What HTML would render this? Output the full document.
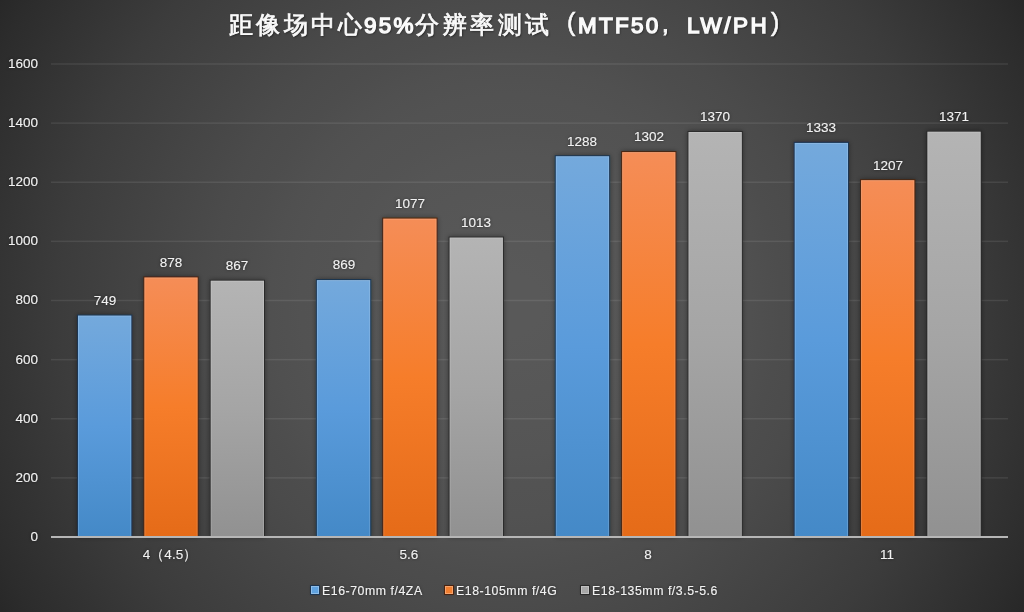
<!DOCTYPE html>
<html><head><meta charset="utf-8"><style>
html,body{margin:0;padding:0;width:1024px;height:612px;overflow:hidden;background:#3a3a3a}
body{position:relative;font-family:"Liberation Sans",sans-serif;color:#f2f2f2}
div{white-space:nowrap}
.yl{position:absolute;left:-12px;width:50px;text-align:right;font-size:13.5px;line-height:20px;text-shadow:0 0 3px rgba(0,0,0,.55);-webkit-text-stroke:0.12px #f0f0f0;will-change:transform;}
.dl{position:absolute;width:60px;text-align:center;font-size:13.5px;line-height:20px;text-shadow:0 0 3px rgba(0,0,0,.55);-webkit-text-stroke:0.12px #f0f0f0;will-change:transform;}
.cl{position:absolute;width:120px;text-align:center;font-size:13.5px;line-height:20px;text-shadow:0 0 3px rgba(0,0,0,.55);-webkit-text-stroke:0.12px #f0f0f0;will-change:transform;}
.t{position:absolute;line-height:40px;font-weight:normal;color:#fafafa;text-shadow:1px 1px 2px rgba(0,0,0,.6);will-change:transform}
.leg{position:absolute;font-size:12.3px;letter-spacing:0.55px;line-height:20px;top:580.84px;text-shadow:0 0 3px rgba(0,0,0,.55);-webkit-text-stroke:0.12px #f0f0f0;will-change:transform;-webkit-text-stroke:0.15px #f0f0f0}
.sq{position:absolute;top:586px;width:8px;height:8px}
</style></head><body>
<svg width="1024" height="612" viewBox="0 0 1024 612" style="position:absolute;left:0;top:0"><defs>
<radialGradient id="bg" cx="511" cy="305" r="600" gradientUnits="userSpaceOnUse"><stop offset="0.00" stop-color="#595959"/><stop offset="0.05" stop-color="#595959"/><stop offset="0.10" stop-color="#585858"/><stop offset="0.15" stop-color="#575757"/><stop offset="0.20" stop-color="#565656"/><stop offset="0.25" stop-color="#555555"/><stop offset="0.30" stop-color="#535353"/><stop offset="0.35" stop-color="#525252"/><stop offset="0.40" stop-color="#505050"/><stop offset="0.45" stop-color="#4d4d4d"/><stop offset="0.50" stop-color="#4b4b4b"/><stop offset="0.55" stop-color="#484848"/><stop offset="0.60" stop-color="#454545"/><stop offset="0.65" stop-color="#424242"/><stop offset="0.70" stop-color="#3f3f3f"/><stop offset="0.75" stop-color="#3c3c3c"/><stop offset="0.80" stop-color="#383838"/><stop offset="0.85" stop-color="#343434"/><stop offset="0.90" stop-color="#303030"/><stop offset="0.95" stop-color="#2c2c2c"/><stop offset="1.00" stop-color="#272727"/></radialGradient>
<linearGradient id="gb" x1="0" y1="0" x2="0" y2="1"><stop offset="0" stop-color="#74a9dc"/><stop offset="0.5" stop-color="#5a9bdb"/><stop offset="1" stop-color="#4489c7"/></linearGradient>
<linearGradient id="go" x1="0" y1="0" x2="0" y2="1"><stop offset="0" stop-color="#f58d57"/><stop offset="0.5" stop-color="#f67d2a"/><stop offset="1" stop-color="#e56b18"/></linearGradient>
<linearGradient id="gg" x1="0" y1="0" x2="0" y2="1"><stop offset="0" stop-color="#b4b4b4"/><stop offset="0.5" stop-color="#a5a5a5"/><stop offset="1" stop-color="#919191"/></linearGradient>
<filter id="sh" x="-30%" y="-10%" width="160%" height="120%"><feGaussianBlur in="SourceAlpha" stdDeviation="2.6" result="b"/><feComponentTransfer in="b" result="b2"><feFuncA type="linear" slope="0.4"/></feComponentTransfer><feMerge><feMergeNode in="b2"/><feMergeNode in="SourceGraphic"/></feMerge></filter>
</defs><rect x="0" y="0" width="1024" height="612" fill="url(#bg)"/><rect x="51.0" y="477.12" width="957.0" height="1.5" fill="#ffffff" fill-opacity="0.085"/><rect x="51.0" y="418.00" width="957.0" height="1.5" fill="#ffffff" fill-opacity="0.085"/><rect x="51.0" y="358.88" width="957.0" height="1.5" fill="#ffffff" fill-opacity="0.085"/><rect x="51.0" y="299.75" width="957.0" height="1.5" fill="#ffffff" fill-opacity="0.085"/><rect x="51.0" y="240.62" width="957.0" height="1.5" fill="#ffffff" fill-opacity="0.085"/><rect x="51.0" y="181.50" width="957.0" height="1.5" fill="#ffffff" fill-opacity="0.085"/><rect x="51.0" y="122.37" width="957.0" height="1.5" fill="#ffffff" fill-opacity="0.085"/><rect x="51.0" y="63.25" width="957.0" height="1.5" fill="#ffffff" fill-opacity="0.085"/><rect x="77.00" y="314.58" width="55.30" height="222.42" fill="#1b3451" filter="url(#sh)"/><rect x="78.00" y="315.58" width="53.3" height="221.42" fill="url(#gb)"/><rect x="78.50" y="316.08" width="52.30" height="220.42" fill="none" stroke="#fff" stroke-opacity="0.16" stroke-width="1"/><rect x="143.35" y="276.44" width="55.30" height="260.56" fill="#4b2410" filter="url(#sh)"/><rect x="144.35" y="277.44" width="53.3" height="259.56" fill="url(#go)"/><rect x="144.85" y="277.94" width="52.30" height="258.56" fill="none" stroke="#fff" stroke-opacity="0.16" stroke-width="1"/><rect x="209.70" y="279.69" width="55.30" height="257.31" fill="#2a2a2a" filter="url(#sh)"/><rect x="210.70" y="280.69" width="53.3" height="256.31" fill="url(#gg)"/><rect x="211.20" y="281.19" width="52.30" height="255.31" fill="none" stroke="#fff" stroke-opacity="0.16" stroke-width="1"/><rect x="315.90" y="279.10" width="55.30" height="257.90" fill="#1b3451" filter="url(#sh)"/><rect x="316.90" y="280.10" width="53.3" height="256.90" fill="url(#gb)"/><rect x="317.40" y="280.60" width="52.30" height="255.90" fill="none" stroke="#fff" stroke-opacity="0.16" stroke-width="1"/><rect x="382.25" y="217.61" width="55.30" height="319.39" fill="#4b2410" filter="url(#sh)"/><rect x="383.25" y="218.61" width="53.3" height="318.39" fill="url(#go)"/><rect x="383.75" y="219.11" width="52.30" height="317.39" fill="none" stroke="#fff" stroke-opacity="0.16" stroke-width="1"/><rect x="448.60" y="236.53" width="55.30" height="300.47" fill="#2a2a2a" filter="url(#sh)"/><rect x="449.60" y="237.53" width="53.3" height="299.47" fill="url(#gg)"/><rect x="450.10" y="238.03" width="52.30" height="298.47" fill="none" stroke="#fff" stroke-opacity="0.16" stroke-width="1"/><rect x="554.80" y="155.23" width="55.30" height="381.77" fill="#1b3451" filter="url(#sh)"/><rect x="555.80" y="156.23" width="53.3" height="380.77" fill="url(#gb)"/><rect x="556.30" y="156.73" width="52.30" height="379.77" fill="none" stroke="#fff" stroke-opacity="0.16" stroke-width="1"/><rect x="621.15" y="151.10" width="55.30" height="385.90" fill="#4b2410" filter="url(#sh)"/><rect x="622.15" y="152.10" width="53.3" height="384.90" fill="url(#go)"/><rect x="622.65" y="152.60" width="52.30" height="383.90" fill="none" stroke="#fff" stroke-opacity="0.16" stroke-width="1"/><rect x="687.50" y="130.99" width="55.30" height="406.01" fill="#2a2a2a" filter="url(#sh)"/><rect x="688.50" y="131.99" width="53.3" height="405.01" fill="url(#gg)"/><rect x="689.00" y="132.49" width="52.30" height="404.01" fill="none" stroke="#fff" stroke-opacity="0.16" stroke-width="1"/><rect x="793.70" y="141.93" width="55.30" height="395.07" fill="#1b3451" filter="url(#sh)"/><rect x="794.70" y="142.93" width="53.3" height="394.07" fill="url(#gb)"/><rect x="795.20" y="143.43" width="52.30" height="393.07" fill="none" stroke="#fff" stroke-opacity="0.16" stroke-width="1"/><rect x="860.05" y="179.18" width="55.30" height="357.82" fill="#4b2410" filter="url(#sh)"/><rect x="861.05" y="180.18" width="53.3" height="356.82" fill="url(#go)"/><rect x="861.55" y="180.68" width="52.30" height="355.82" fill="none" stroke="#fff" stroke-opacity="0.16" stroke-width="1"/><rect x="926.40" y="130.70" width="55.30" height="406.30" fill="#2a2a2a" filter="url(#sh)"/><rect x="927.40" y="131.70" width="53.3" height="405.30" fill="url(#gg)"/><rect x="927.90" y="132.20" width="52.30" height="404.30" fill="none" stroke="#fff" stroke-opacity="0.16" stroke-width="1"/><rect x="51.0" y="536.00" width="957.0" height="2" fill="#b6b6b6"/></svg>
<div class="t" style="left:229.00px;top:5.00px;font-size:23.5px;letter-spacing:3.3px;-webkit-text-stroke:0.8px #fafafa">距像场中心</div><div class="t" style="left:364.00px;top:6.10px;font-size:22.5px;letter-spacing:2.2px;-webkit-text-stroke:1.4px #fafafa">95%</div><div class="t" style="left:415.00px;top:5.00px;font-size:23.5px;letter-spacing:3.5px;-webkit-text-stroke:0.8px #fafafa">分辨率测试</div><div class="t" style="left:566.80px;top:2.30px;font-size:25px;letter-spacing:0px;-webkit-text-stroke:0.6px #fafafa">(</div><div class="t" style="left:577.75px;top:6.10px;font-size:22.5px;letter-spacing:2.24px;-webkit-text-stroke:1.4px #fafafa">MTF50</div><div class="t" style="left:662.00px;top:3.80px;font-size:24px;letter-spacing:0px;-webkit-text-stroke:0.9px #fafafa">,</div><div class="t" style="left:687.00px;top:6.10px;font-size:22.5px;letter-spacing:2.57px;-webkit-text-stroke:1.4px #fafafa">LW/PH</div><div class="t" style="left:770.80px;top:2.30px;font-size:25px;letter-spacing:0px;-webkit-text-stroke:0.6px #fafafa">)</div>
<div class="yl" style="top:526.92px">0</div><div class="yl" style="top:467.80px">200</div><div class="yl" style="top:408.67px">400</div><div class="yl" style="top:349.55px">600</div><div class="yl" style="top:290.42px">800</div><div class="yl" style="top:231.30px">1000</div><div class="yl" style="top:172.17px">1200</div><div class="yl" style="top:113.05px">1400</div><div class="yl" style="top:53.92px">1600</div><div class="dl" style="left:74.65px;top:290.90px">749</div><div class="dl" style="left:141.00px;top:252.76px">878</div><div class="dl" style="left:207.35px;top:256.02px">867</div><div class="dl" style="left:313.55px;top:255.42px">869</div><div class="dl" style="left:379.90px;top:193.93px">1077</div><div class="dl" style="left:446.25px;top:212.85px">1013</div><div class="dl" style="left:552.45px;top:131.56px">1288</div><div class="dl" style="left:618.80px;top:127.42px">1302</div><div class="dl" style="left:685.15px;top:107.32px">1370</div><div class="dl" style="left:791.35px;top:118.25px">1333</div><div class="dl" style="left:857.70px;top:155.50px">1207</div><div class="dl" style="left:924.05px;top:107.02px">1371</div><div class="cl" style="left:110.45px;top:545.32px">4（4.5）</div><div class="cl" style="left:349.35px;top:545.32px">5.6</div><div class="cl" style="left:588.25px;top:545.32px">8</div><div class="cl" style="left:827.15px;top:545.32px">11</div>
<div class="sq" style="left:311px;background:#5fa2e0;box-shadow:inset 0 0 0 1px rgba(255,255,255,.3),0 0 0 1px #1b3451,0 0 3px rgba(0,0,0,.4)"></div><div class="leg" style="left:322px">E16-70mm f/4ZA</div>
<div class="sq" style="left:445px;background:#f27f30;box-shadow:inset 0 0 0 1px rgba(255,255,255,.3),0 0 0 1px #4b2410,0 0 3px rgba(0,0,0,.4)"></div><div class="leg" style="left:456px">E18-105mm f/4G</div>
<div class="sq" style="left:581px;background:#a8a8a8;box-shadow:inset 0 0 0 1px rgba(255,255,255,.3),0 0 0 1px #2a2a2a,0 0 3px rgba(0,0,0,.4)"></div><div class="leg" style="left:592px">E18-135mm f/3.5-5.6</div>
</body></html>
